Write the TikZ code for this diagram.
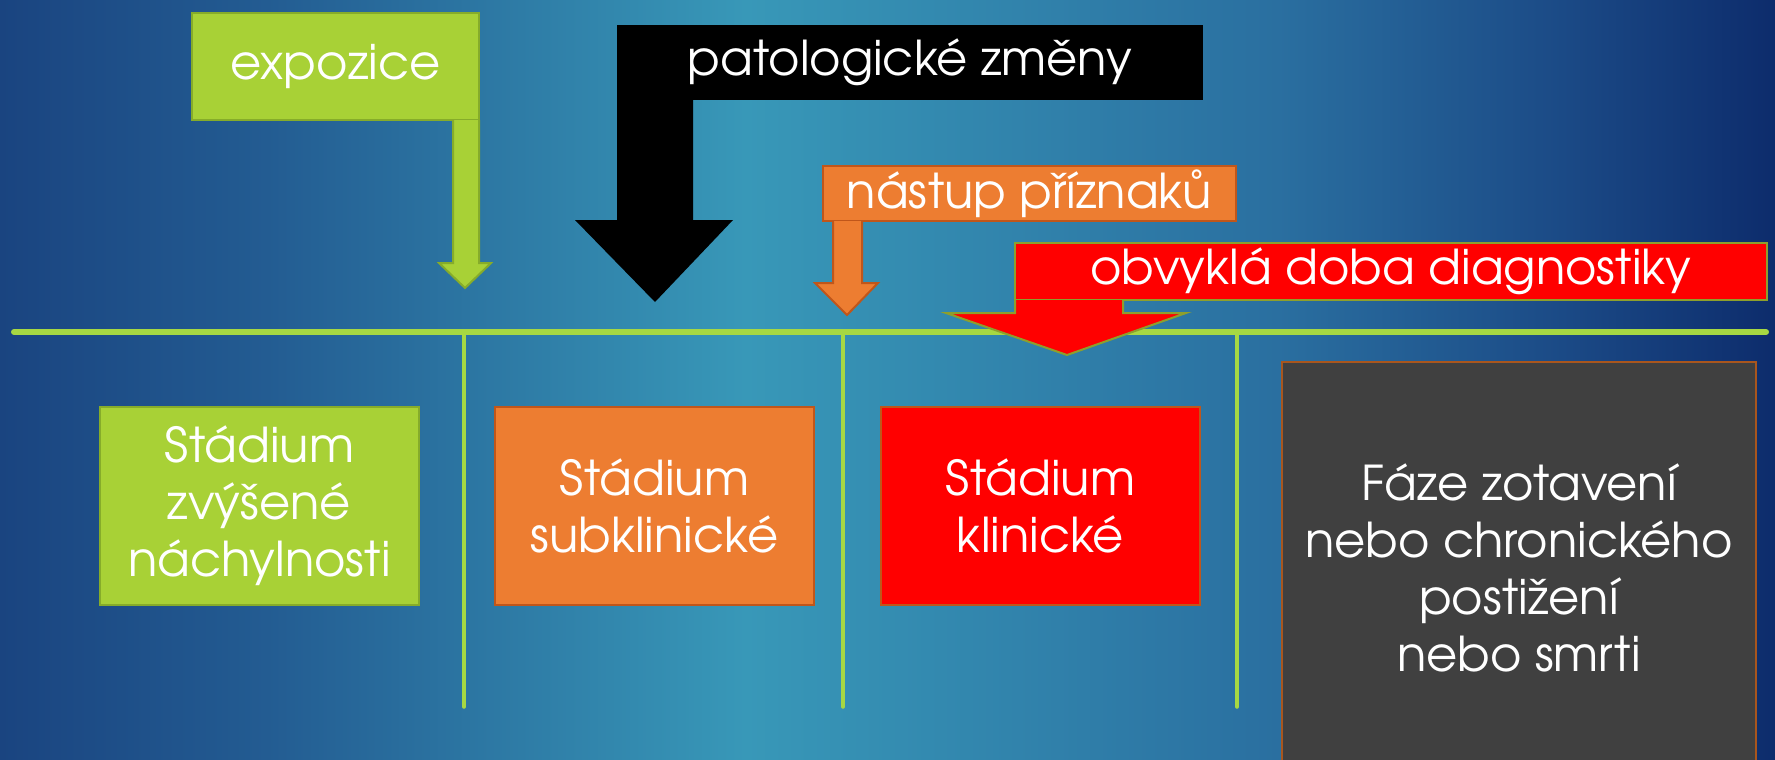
\documentclass[tikz,border=0pt]{standalone}
\usepackage{fontspec}
\setmainfont{TeX Gyre Adventor}
\usepackage{tikz}
\usetikzlibrary{positioning,calc}
\definecolor{stagegreen}{HTML}{A8D136}
\definecolor{greenedge}{HTML}{86AC2A}
\definecolor{stageorange}{HTML}{ED7D31}
\definecolor{orangeedge}{HTML}{C0561A}
\definecolor{stagered}{HTML}{FF0000}
\definecolor{oliveedge}{HTML}{8E9F2C}
\definecolor{recovgray}{HTML}{404040}
\definecolor{recovedge}{HTML}{A8561E}
\definecolor{linegreen}{HTML}{A6D843}
\definecolor{bgA}{HTML}{1A4480}
\definecolor{bgB}{HTML}{235C92}
\definecolor{bgC}{HTML}{3898B8}
\definecolor{bgD}{HTML}{2A6FA0}
\definecolor{bgE}{HTML}{1B4A86}
\definecolor{bgF}{HTML}{0D2C6C}
\pgfdeclarehorizontalshading{slidebg}{100bp}{color(0bp)=(bgA); color(25bp)=(bgA); color(32.5bp)=(bgB); color(46bp)=(bgC); color(61bp)=(bgD); color(69bp)=(bgE); color(75bp)=(bgF); color(100bp)=(bgF)}
\tikzstyle{every node}=[font=\fontsize{48}{57}\selectfont, text=white]
\tikzstyle{stage}=[rectangle,
                   line width=2pt,
                   inner sep=0pt,
                   outer sep=0pt,
                   align=center,
                   minimum width=319pt,
                   minimum height=198pt]
\tikzstyle{eventbox}=[rectangle,
                      line width=2pt,
                      inner sep=0pt,
                      outer sep=0pt]
\tikzstyle{blockarrow}=[line width=2pt,
                        line join=miter]
\tikzstyle{timeline}=[linegreen, line width=6pt, line cap=round]
\tikzstyle{tickline}=[linegreen, line width=3.5pt, line cap=round]
\begin{document}
\begin{tikzpicture}[x=1pt,y=-1pt]
\useasboundingbox (0,0) rectangle (1775,760);
\clip (0,0) rectangle (1775,760);
\shade[shading=slidebg] (0,0) rectangle (1775,760);

\coordinate (t0) at (14,332);
\coordinate (t1) at (464,332);
\coordinate (t2) at (843,332);
\coordinate (t3) at (1237,332);
\coordinate (t4) at (1766,332);
\draw[timeline] (t0) -- (t4);
\foreach \t in {t1,t2,t3}
  \draw[tickline] (\t) -- ++(0,375);

\node (susc)  [stage, fill=stagegreen, draw=greenedge] at (259.5,506) {Stádium\\zvýšené\\náchylnosti};
\node (subcl) [stage, fill=stageorange, draw=orangeedge, right=76pt of susc] {Stádium\\subklinické};
\node (clin)  [stage, fill=stagered, draw=orangeedge, right=67pt of subcl] {Stádium\\klinické};
\node (recov) [stage, fill=recovgray, draw=recovedge, minimum width=474pt, minimum height=412pt] at (1519,568) {Fáze zotavení\\nebo chronického\\postižení\\nebo smrti};

\node (expo)  [eventbox, fill=stagegreen, draw=greenedge, minimum width=287pt, minimum height=107pt] at (335.5,66.5) {expozice};
\node (pato)  [eventbox, fill=black, minimum width=586pt, minimum height=75pt] at (910,62.5) {patologické změny};
\node (onset) [eventbox, fill=stageorange, draw=orangeedge, minimum width=413pt, minimum height=55pt] at (1029.5,193.5) {nástup příznaků};
\node (diag)  [eventbox, fill=stagered, draw=oliveedge, minimum width=752pt, minimum height=57pt] at (1391,271.5) {obvyklá doba diagnostiky};

\filldraw[blockarrow, fill=stagegreen, draw=greenedge] (expo.south east) -- ++(0,143) -- ++(12,0) -- ++(-26,25) -- ++(-26,-25) -- ++(14,0) -- ++(0,-143);
\fill[black] (pato.south west) -- ++(0,120) -- ++(-42,0) -- ++(80,82) -- ++(78,-82) -- ++(-40,0) -- ++(0,-120) -- cycle;
\filldraw[blockarrow, fill=stageorange, draw=orangeedge] ($(onset.south west)+(10,0)$) -- ++(0,62) -- ++(-18,0) -- ++(32,32) -- ++(31,-32) -- ++(-16,0) -- ++(0,-62);
\filldraw[blockarrow, fill=stagered, draw=oliveedge] (diag.south west) -- ++(0,13) -- ++(-69,0) -- ++(121,42) -- ++(119,-42) -- ++(-63,0) -- ++(0,-13);
\end{tikzpicture}
\end{document}
